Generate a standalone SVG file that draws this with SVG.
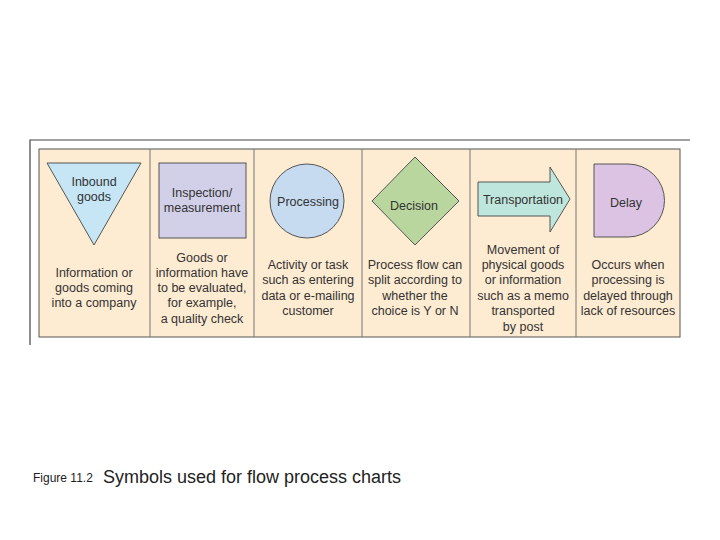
<svg xmlns="http://www.w3.org/2000/svg" width="720" height="540" viewBox="0 0 720 540">
<style>
.s{stroke:#555;stroke-width:1}
.t{font-family:"Liberation Sans",Arial,sans-serif;font-size:12.5px;fill:#333;text-anchor:middle}
.d{stroke:#777;stroke-width:1}
</style>
<rect width="720" height="540" fill="#fff"/>
<path d="M30,345 V140 H690" fill="none" stroke="#444" stroke-width="1.2"/>
<rect x="39" y="149" width="641" height="188" fill="#fdebd2" stroke="#555"/>
<g id="dividers">
<line class="d" x1="150" y1="149" x2="150" y2="337"/>
<line class="d" x1="254" y1="149" x2="254" y2="337"/>
<line class="d" x1="362" y1="149" x2="362" y2="337"/>
<line class="d" x1="470" y1="149" x2="470" y2="337"/>
<line class="d" x1="576" y1="149" x2="576" y2="337"/>
</g>
<g id="inbound">
<polygon class="s" points="47,163 141,163 94,245" fill="#c6e6f5"/>
<text class="t" x="94" y="186">Inbound</text><text class="t" x="94" y="201">goods</text>
<text class="t" x="94" y="277">Information or</text><text class="t" x="94" y="292">goods coming</text><text class="t" x="94" y="307">into a company</text>
</g>
<g id="inspection">
<rect class="s" x="159" y="163" width="87" height="75" fill="#d2cfe8"/>
<text class="t" x="202" y="197">Inspection/</text><text class="t" x="202" y="212">measurement</text>
<text class="t" x="202" y="262">Goods or</text><text class="t" x="202" y="277">information have</text><text class="t" x="202" y="292">to be evaluated,</text><text class="t" x="202" y="307">for example,</text><text class="t" x="202" y="323">a quality check</text>
</g>
<g id="processing">
<circle class="s" cx="307" cy="201" r="37" fill="#c6daf0"/>
<text class="t" x="308" y="206">Processing</text>
<text class="t" x="308" y="269">Activity or task</text><text class="t" x="308" y="284">such as entering</text><text class="t" x="308" y="300">data or e-mailing</text><text class="t" x="308" y="315">customer</text>
</g>
<g id="decision">
<polygon class="s" points="415,157 459,201 415,245 372,201" fill="#b9d69e"/>
<text class="t" x="414" y="210">Decision</text>
<text class="t" x="415" y="269">Process flow can</text><text class="t" x="415" y="284">split according to</text><text class="t" x="415" y="300">whether the</text><text class="t" x="415" y="315">choice is Y or N</text>
</g>
<g id="transportation">
<polygon class="s" points="478,182 550,182 550,167 570,199 550,232 550,216 478,216" fill="#bfe6dc"/>
<text class="t" x="523" y="204">Transportation</text>
<text class="t" x="523" y="254">Movement of</text><text class="t" x="523" y="269">physical goods</text><text class="t" x="523" y="284">or information</text><text class="t" x="523" y="300">such as a memo</text><text class="t" x="523" y="315">transported</text><text class="t" x="523" y="331">by post</text>
</g>
<g id="delay">
<path class="s" d="M594,164 H628 A36.5,36.5 0 0 1 628,237 H594 Z" fill="#dcc3e3"/>
<text class="t" x="626" y="207">Delay</text>
<text class="t" x="628" y="269">Occurs when</text><text class="t" x="628" y="284">processing is</text><text class="t" x="628" y="300">delayed through</text><text class="t" x="628" y="315">lack of resources</text>
</g>
<g id="caption">
<text x="33" y="482" font-family="Liberation Sans,Arial,sans-serif" font-size="12" fill="#222">Figure 11.2</text>
<text x="103" y="483" font-family="Liberation Sans,Arial,sans-serif" font-size="18" fill="#222">Symbols used for flow process charts</text>
</g>
</svg>
